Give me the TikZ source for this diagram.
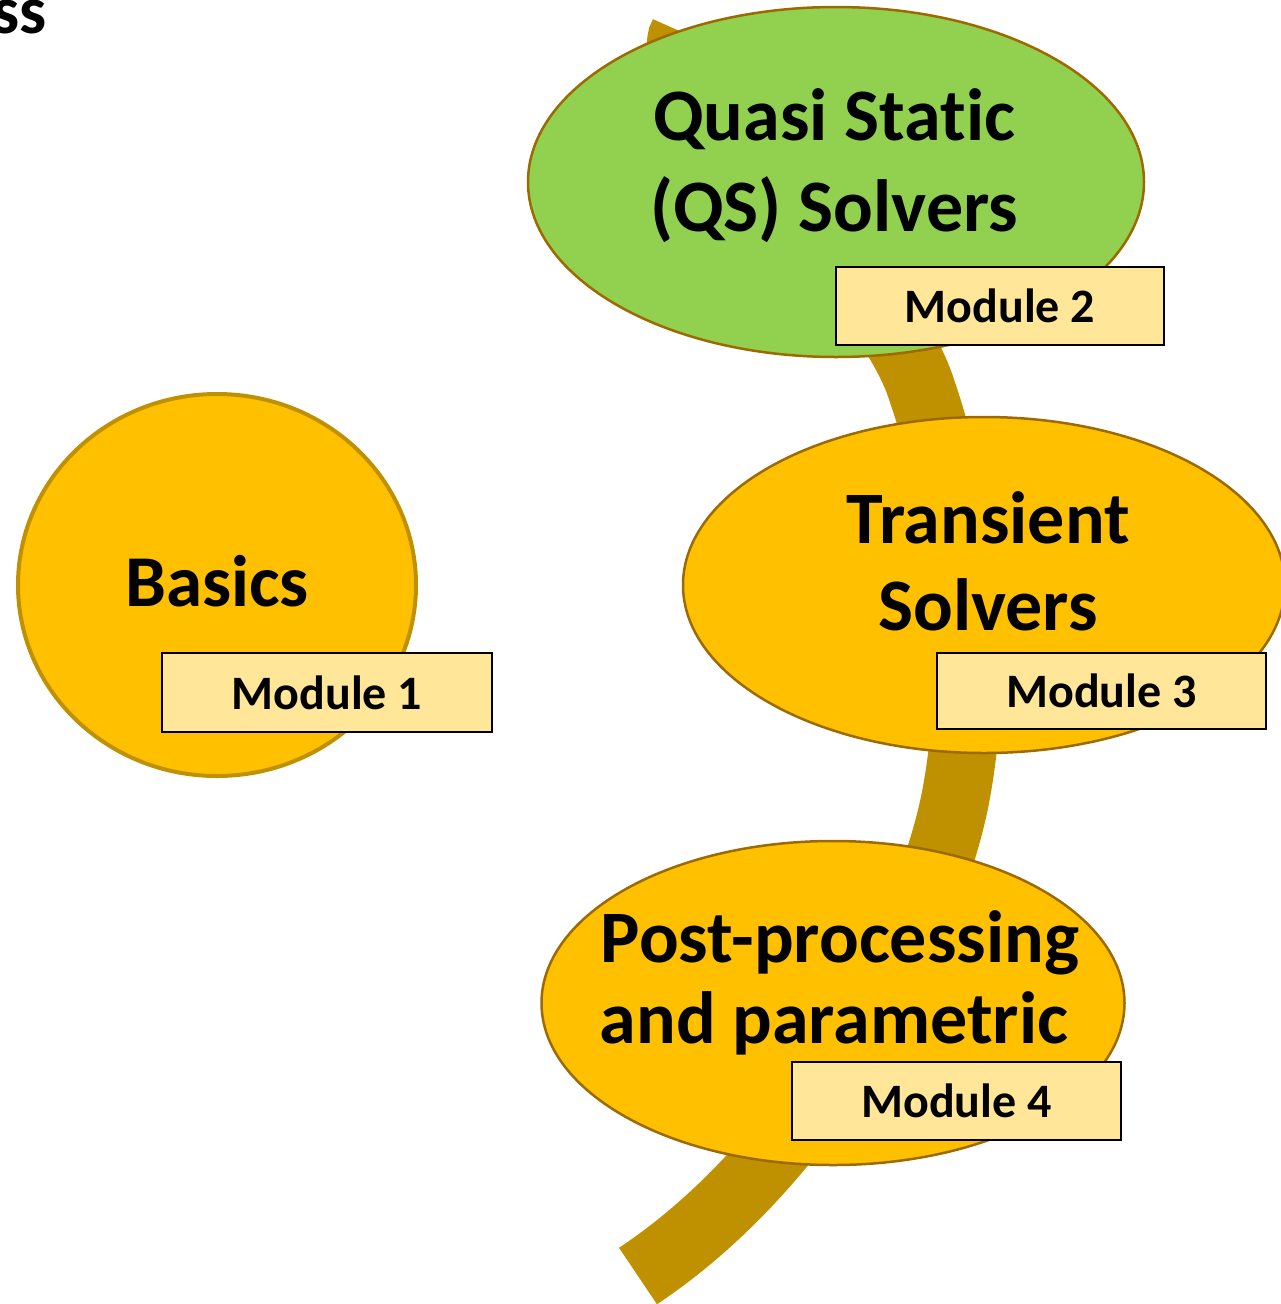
\documentclass[tikz,border=0pt]{standalone}
\usepackage{fontspec}
\setmainfont{Carlito}[Ligatures=NoCommon]
\usetikzlibrary{shapes.geometric}
\definecolor{ribboncol}{HTML}{BF9000}
\definecolor{goldfill}{HTML}{FFC000}
\definecolor{greenfill}{HTML}{92D050}
\definecolor{modfill}{HTML}{FFE699}
\definecolor{rimbrown}{HTML}{9C6A00}
\tikzset{
  bubble/.style={ellipse, draw=rimbrown, line width=2.5pt, inner sep=0pt},
  modbox/.style={rectangle, draw=black, fill=modfill, line width=2.5pt, inner sep=0pt,
    font=\fontsize{48}{56}\selectfont\bfseries},
  bigtext/.style={inner sep=0pt, anchor=base, font=\fontsize{74}{90}\selectfont\bfseries},
  band/.style={draw=ribboncol, line width=68pt, line cap=butt}
}
\begin{document}
\begin{tikzpicture}[x=1pt,y=-1pt]
\useasboundingbox (0,0) rectangle (1281,1304);
% ribbon
\coordinate (rs) at (684,33);
\coordinate (r1) at (920,385);
\coordinate (r2) at (955,800);
\coordinate (re) at (638,1276);
\draw[band] (rs) .. controls (652,83) and (878,265) .. (r1)
  .. controls (970,529) and (978,683) .. (r2)
  .. controls (930,925) and (820,1155) .. (re);
% title fragment
\node[anchor=base east, inner sep=0pt, font=\fontsize{68}{80}\selectfont\bfseries] (title) at (47,33) {ss};
% bubbles
\node[bubble, fill=greenfill, minimum width=616pt, minimum height=350pt] (qs) at (836,182) {};
\node[bubble, fill=goldfill, minimum width=602pt, minimum height=336pt] (tr) at (984,585) {};
\node[bubble, fill=goldfill, minimum width=583pt, minimum height=324pt] (pp) at (833,1003) {};
\node[ellipse, draw=ribboncol, fill=goldfill, line width=4pt, inner sep=0pt, minimum width=398pt, minimum height=382pt] (ba) at (217,585) {};
% bubble texts
\node[bigtext] (qsa) at (834,140) {Quasi Static};
\node[bigtext] (qsb) at (834,231) {(QS) Solvers};
\node[bigtext] (tra) at (988,543) {Transient};
\node[bigtext] (trb) at (988,630) {Solvers};
\node[bigtext] (ppa) at (840,962) {Post-processing};
\node[bigtext] (ppb) at (834,1043) {and parametric};
\node[bigtext, font=\fontsize{73}{86}\selectfont\bfseries] (bat) at (217,606) {Basics};
% module boxes
\node[modbox, minimum width=330pt, minimum height=79pt] (m1) at (327,692.5) {Module 1};
\node[modbox, minimum width=328pt, minimum height=78pt] (m2) at (1000,306) {Module 2};
\node[modbox, minimum width=329pt, minimum height=76pt] (m3) at (1101.5,691) {Module 3};
\node[modbox, minimum width=329pt, minimum height=78pt] (m4) at (956.5,1101) {Module 4};
\end{tikzpicture}
\end{document}
